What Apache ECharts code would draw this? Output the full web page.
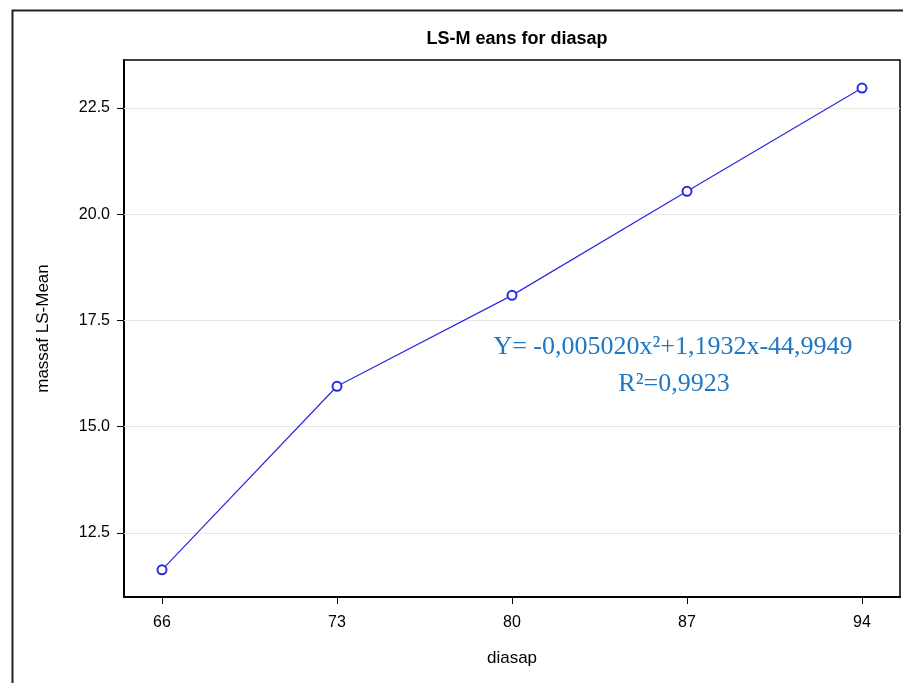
<!DOCTYPE html>
<html>
<head>
<meta charset="utf-8">
<script src="https://cdn.jsdelivr.net/npm/echarts@6/dist/echarts.min.js"></script>
<style>html,body{margin:0;padding:0;background:#fff;}#c{width:903px;height:683px;}</style>
</head>
<body>
<div id="c"></div>
<script>
const categories = [66, 73, 80, 87, 94];
const lsMeans = [11.63, 15.95, 18.09, 20.54, 22.97];
const yTicks = [12.5, 15.0, 17.5, 20.0, 22.5];
const xTicks = [66, 73, 80, 87, 94];
const titleText = 'LS-M eans for diasap';
const xName = 'diasap';
const yName = 'massaf LS-Mean';
const eqLine1 = 'Y= -0,005020x²+1,1932x-44,9949';
const eqLine2 = 'R²=0,9923';

const chart = echarts.init(document.getElementById('c'), null, {renderer: 'canvas'});
const data = categories.map((c, i) => [c, lsMeans[i]]);
const font = 'Liberation Sans';
chart.setOption({
  animation: false,
  backgroundColor: '#fff',
  title: {
    text: titleText, left: 512, top: 25, textAlign: 'center',
    textStyle: {fontFamily: font, fontSize: 18, fontWeight: 'bold', color: '#000'}
  },
  grid: {left: 124, right: 3, top: 60, bottom: 86, show: true, borderColor: '#000', borderWidth: 1.5, containLabel: false},
  xAxis: {
    type: 'value', min: 64.48, max: 95.52,
    name: xName, nameLocation: 'middle', nameGap: 53,
    nameTextStyle: {fontFamily: font, fontSize: 17, color: '#000'},
    axisLine: {show: true, lineStyle: {color: '#000', width: 2}},
    axisTick: {show: true, length: 7, lineStyle: {color: '#000', width: 1}, customValues: xTicks},
    axisLabel: {fontFamily: font, fontSize: 16, color: '#000', margin: 18, customValues: xTicks, formatter: v => String(v)},
    splitLine: {show: false}
  },
  yAxis: {
    type: 'value', min: 10.99, max: 23.63,
    name: yName, nameLocation: 'middle', nameGap: 72, nameRotate: 90,
    nameTextStyle: {fontFamily: font, fontSize: 17, color: '#000'},
    axisLine: {show: true, lineStyle: {color: '#000', width: 2}},
    axisTick: {show: true, length: 7, lineStyle: {color: '#000', width: 1}, customValues: yTicks},
    axisLabel: {fontFamily: font, fontSize: 16, color: '#000', margin: 14, customValues: yTicks, formatter: v => v.toFixed(1)},
    splitLine: {show: false}
  },
  series: [{
    type: 'line', data: data,
    symbol: 'emptyCircle', symbolSize: 9,
    lineStyle: {color: '#2a2ae0', width: 1.2},
    itemStyle: {color: '#2a2ae0', borderWidth: 1.2},
    markLine: {
      silent: true, symbol: 'none', label: {show: false},
      lineStyle: {color: '#e6e6e6', width: 1, type: 'solid'},
      data: yTicks.map(v => ({yAxis: v})),
      z: 1
    }
  }],
  graphic: [
    {type: 'rect', left: 10, top: 8, shape: {width: 1000, height: 1000}, style: {fill: null, stroke: '#222', lineWidth: 2}, z: -1},
    {type: 'text', x: 673, y: 334, style: {text: eqLine1, fill: '#1f78c4', font: '26px "Liberation Serif"', textAlign: 'center'}},
    {type: 'text', x: 674, y: 371, style: {text: eqLine2, fill: '#1f78c4', font: '26px "Liberation Serif"', textAlign: 'center'}}
  ]
});
</script>
</body>
</html>
